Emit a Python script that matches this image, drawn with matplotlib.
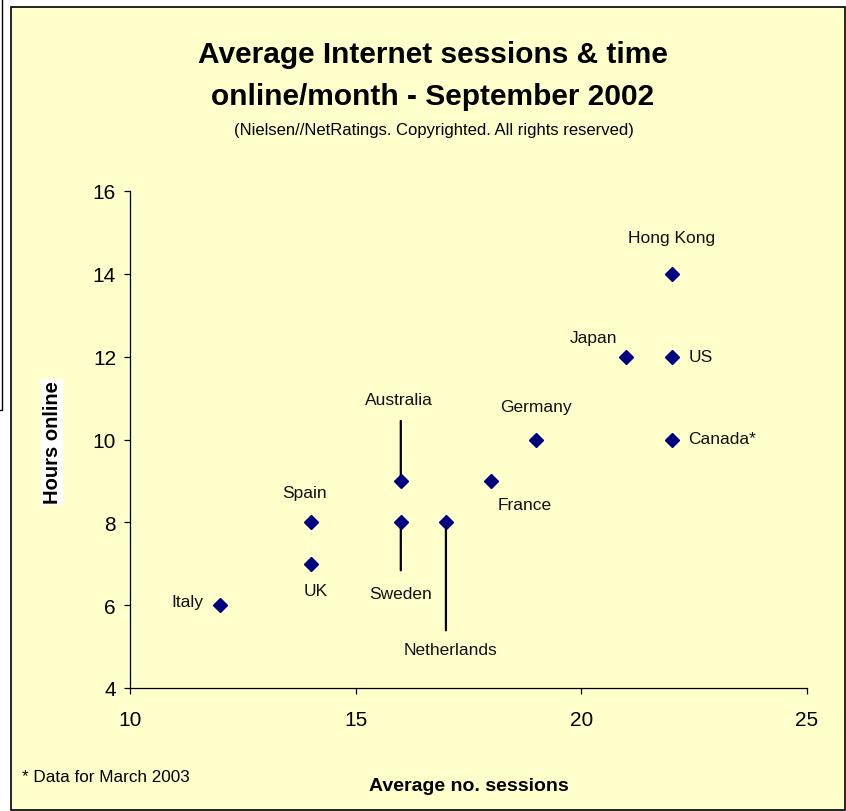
import matplotlib
matplotlib.use("Agg")
import matplotlib.pyplot as plt
from matplotlib.patches import Rectangle
from matplotlib.lines import Line2D

plt.rcParams['font.family'] = ['Liberation Sans', 'DejaVu Sans']

countries = ["Italy", "Spain", "UK", "Australia", "Sweden", "Netherlands",
             "France", "Germany", "Japan", "Hong Kong", "US", "Canada*"]
sessions = [12, 14, 14, 16, 16, 17, 18, 19, 21, 22, 22, 22]
hours = [6, 8, 7, 9, 8, 8, 9, 10, 12, 14, 12, 10]
x_ticks = [10, 15, 20, 25]
y_ticks = [4, 6, 8, 10, 12, 14, 16]

# label placement: (dx, dy) in pixels, ha, va, leader length (pixels, signed; 0 = none)
label_style = {
    "Italy":       (-33, 4, "center", "center", 0),
    "Spain":       (-6, 30, "center", "center", 0),
    "UK":          (5, -27, "center", "center", 0),
    "Australia":   (-2, 81, "center", "center", 60),
    "Sweden":      (0, -71, "center", "center", -48),
    "Netherlands": (5, -127, "center", "center", -108),
    "France":      (34, -24, "center", "center", 0),
    "Germany":     (0, 33, "center", "center", 0),
    "Japan":       (-33, 19, "center", "center", 0),
    "Hong Kong":   (0, 36, "center", "center", 0),
    "US":          (17, 0, "left", "center", 0),
    "Canada*":     (17, 1, "left", "center", 0),
}

fig = plt.figure(figsize=(8.46, 8.12), dpi=100)
fig.patch.set_facecolor("white")

W, H = 846, 812
def fx(px):
    return px / W
def fy(py):
    return 1 - py / H

fig.patches.append(Rectangle((fx(11), fy(811)), fx(845) - fx(11), fy(8) - fy(811),
                             transform=fig.transFigure, facecolor="#FFFFCC",
                             edgecolor="black", lw=1.2, zorder=-10))
fig.lines.append(Line2D([fx(2), fx(2), fx(0)], [fy(0), fy(411), fy(411)],
                        transform=fig.transFigure, color="black", lw=1.0))

ax = fig.add_axes([fx(130), fy(689), fx(807) - fx(130), fy(192) - fy(689)])
ax.set_zorder(1)
ax.set_facecolor("none")
ax.set_xlim(10, 25)
ax.set_ylim(4, 16)
ax.set_xticks(x_ticks)
ax.set_yticks(y_ticks)
for s in ["top", "right"]:
    ax.spines[s].set_visible(False)
for s in ["left", "bottom"]:
    ax.spines[s].set_linewidth(0.9)
    ax.spines[s].set_color("black")
ax.tick_params(axis="y", direction="out", length=4, width=0.9, pad=6, labelsize=15)
ax.tick_params(axis="x", direction="out", length=4, width=0.9, pad=12, labelsize=15)

ax.plot(sessions, hours, linestyle="none", marker="D", markersize=7,
        color="#000080", zorder=3, clip_on=False)

for c, x, y in zip(countries, sessions, hours):
    dx, dy, ha, va, lead = label_style[c]
    ax.annotate(c, (x, y), xytext=(dx, dy), textcoords="offset pixels",
                ha=ha, va=va, fontsize=12.5, color="#111111")
    if lead:
        ax.annotate("", xy=(x, y), xytext=(0, lead), textcoords="offset pixels",
                    arrowprops=dict(arrowstyle="-", lw=1.6, color="black",
                                    shrinkA=0, shrinkB=0), zorder=2)

fig.text(fx(433), fy(55), "Average Internet sessions & time", ha="center", va="center",
         fontsize=21.5, fontweight="bold")
fig.text(fx(433), fy(97), "online/month - September 2002", ha="center", va="center",
         fontsize=21.5, fontweight="bold")
fig.text(fx(434), fy(130), "(Nielsen//NetRatings. Copyrighted. All rights reserved)",
         ha="center", va="center", fontsize=12)

fig.text(fx(469), fy(787), "Average no. sessions", ha="center", va="center",
         fontsize=14, fontweight="bold")
fig.text(fx(52), fy(443), "Hours online", ha="center", va="center", rotation=90,
         fontsize=14.5, fontweight="bold",
         bbox=dict(facecolor="white", edgecolor="none", pad=1))
fig.text(fx(22), fy(778), "* Data for March 2003", ha="left", va="center", fontsize=12.3)

fig.savefig("out.png", dpi=100)
